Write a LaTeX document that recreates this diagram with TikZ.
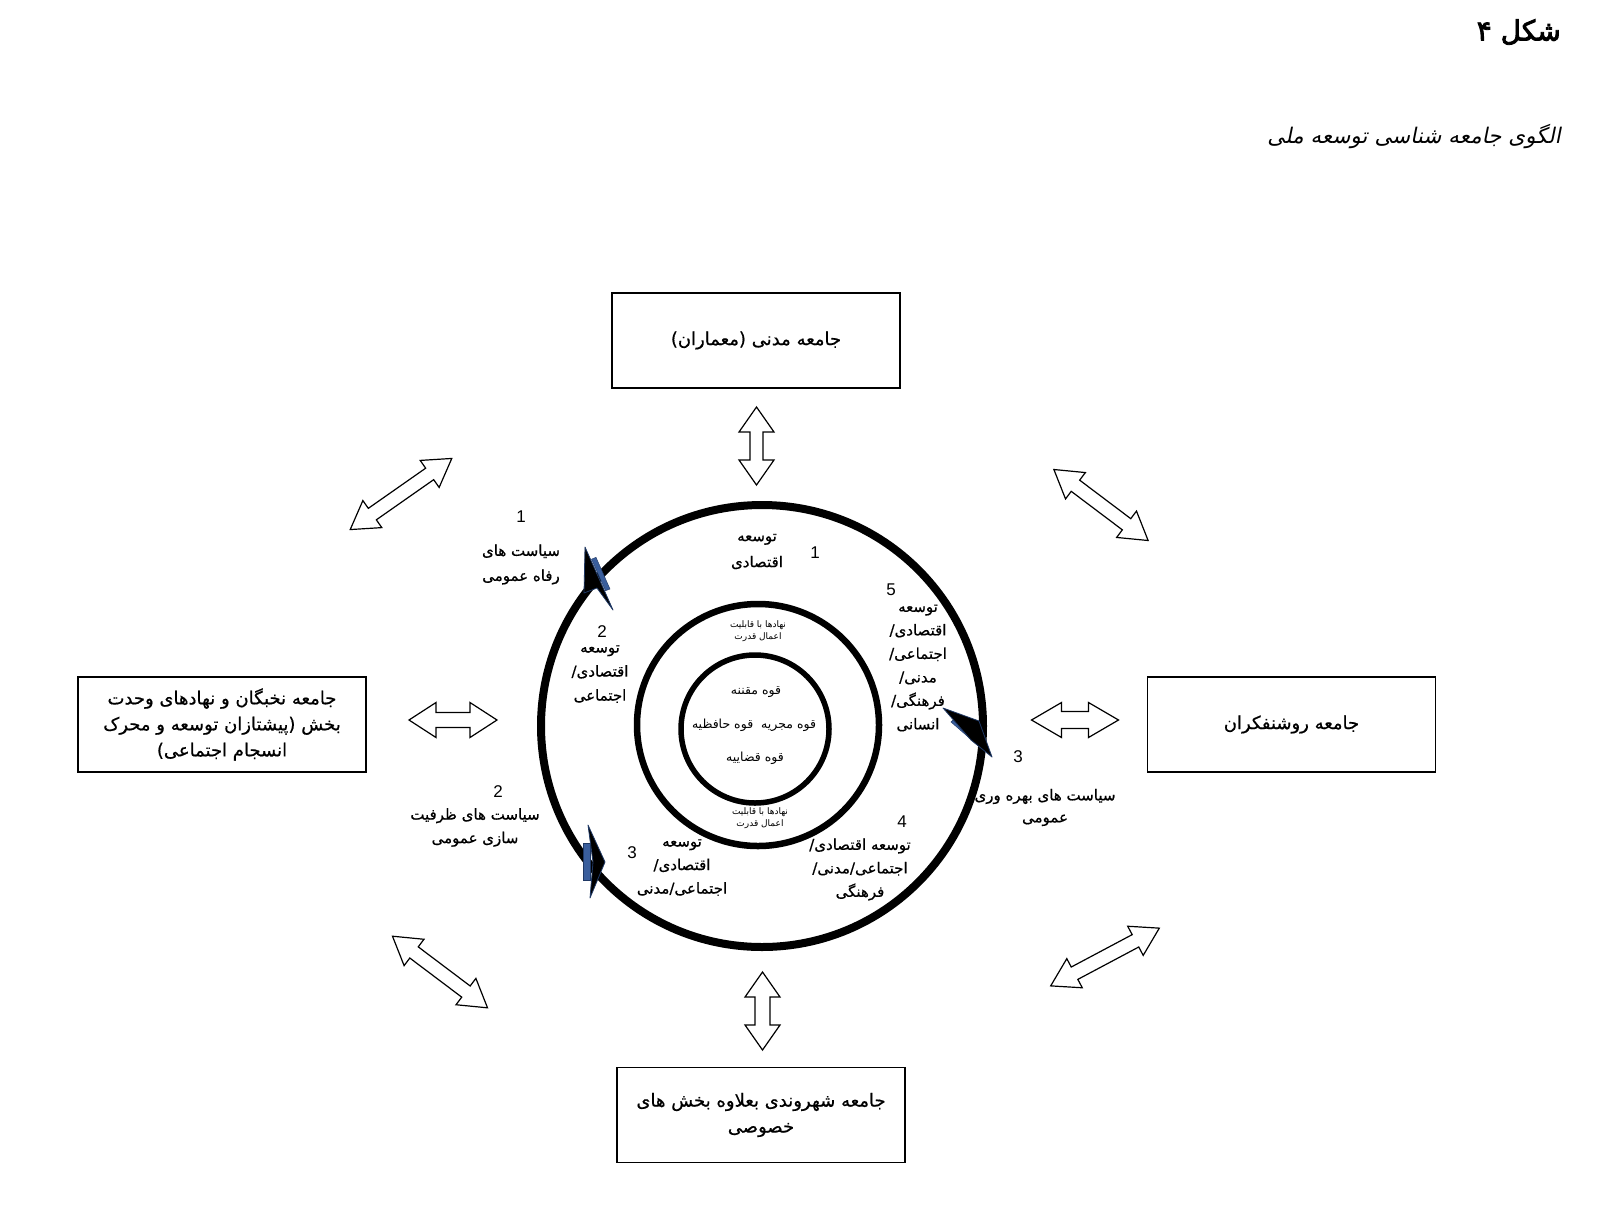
\documentclass[tikz,border=0pt]{standalone}
\usepackage{fontspec}
\setmainfont{Liberation Sans}
\newfontfamily\fa[Script=Arabic,FakeBold=0.6]{DejaVu Sans}
\newfontfamily\fathin[Script=Arabic]{DejaVu Sans}
\newfontfamily\faslant[Script=Arabic,FakeSlant=0.2]{DejaVu Sans}
\newfontfamily\fabold[Script=Arabic,FakeBold=3]{DejaVu Sans}
\TeXXeTstate=1
\definecolor{headedge}{HTML}{1F3864}
\definecolor{headstrip}{HTML}{3A5E9C}
\newcommand\blockarr[7]{%
  \begin{scope}[shift={(#1,#2)},rotate=#3]
    \pgfmathsetmacro\La{#4/2}\pgfmathsetmacro\Lb{#4/2-#7}%
    \pgfmathsetmacro\Wa{#5/2}\pgfmathsetmacro\Wb{#6/2}%
    \draw[blockarrow] (-\La,0) -- (-\Lb,\Wa) -- (-\Lb,\Wb) -- (\Lb,\Wb) -- (\Lb,\Wa) -- (\La,0)
      -- (\Lb,-\Wa) -- (\Lb,-\Wb) -- (-\Lb,-\Wb) -- (-\Lb,-\Wa) -- cycle;
  \end{scope}}
\begin{document}
\begin{tikzpicture}[x=1pt,y=-1pt,
  textbox/.style={draw, line width=1.2pt, minimum width=288pt, minimum height=95pt, inner sep=0pt,
    align=center, font=\fa\fontsize{18}{26}\selectfont},
  blockarrow/.style={draw, line width=1.2pt, fill=white, line join=miter},
  ring/.style={circle, draw, inner sep=0pt},
  lbl/.style={align=center, inner sep=0pt, font=\fa\fontsize{15}{23.5}\selectfont},
  num/.style={inner sep=0pt, font=\fontsize{17}{19}\selectfont},
  small/.style={align=center, inner sep=0pt, font=\fathin\fontsize{9}{12}\selectfont},
  power/.style={inner sep=0pt, font=\fathin\fontsize{12.5}{14}\selectfont},
  headblack/.style={fill=black, draw=headedge, line width=0.8pt, line join=round},
  headblue/.style={fill=headstrip, draw=headedge, line width=0.4pt}]
\useasboundingbox (0,0) rectangle (1609,1208);
\fill[white] (0,0) rectangle (1609,1208);

% title
\node[anchor=east, inner sep=0pt, font=\fabold\fontsize{28}{32}\selectfont] (title) at (1561,32) {\beginR شکل ۴\endR};
\node[anchor=east, inner sep=0pt, font=\faslant\fontsize{21.5}{26}\selectfont] (subtitle) at (1561,136) {\beginR الگوی جامعه شناسی توسعه ملی\endR};

% boxes
\node[textbox] (civil) at (756,340.5) {\beginR جامعه مدنی (معماران)\endR};
\node[textbox] (elite) at (222,724.5) {\beginR جامعه نخبگان و نهادهای وحدت\endR\\\beginR بخش (پیشتازان توسعه و محرک\endR\\\beginR انسجام اجتماعی)\endR};
\node[textbox] (intel) at (1291.5,724.5) {\beginR جامعه روشنفکران\endR};
\node[textbox] (citizen) at (761,1115) {\beginR جامعه شهروندی بعلاوه بخش های\endR\\\beginR خصوصی\endR};

% rings
\node[ring, line width=8pt, minimum size=442pt] (outer) at (762,726) {};
\node[ring, line width=6.5pt, minimum size=242pt] (middle) at (758,725) {};
\node[ring, line width=5.5pt, minimum size=148pt] (inner) at (755,729) {};

% arrowheads on the outer ring
\path[headblue] (591.5,559.2) -- (596,557.3) -- (610,589) -- (605.5,590.7) -- cycle;
\path[headblack] (585,547) -- (613,610) -- (597,588) -- (584,593) -- cycle;
\path[headblue] (951,722) -- (954,719) -- (985,746) -- (982,749) -- cycle;
\path[headblack] (943,708) -- (979,721) -- (992,757) -- (971,740) -- cycle;
\path[headblue] (583,843) rectangle (590,880);
\path[headblack] (588,825) -- (605,862) -- (590,898) -- (593,862) -- cycle;

% block arrows
\blockarr{756.5}{446}{90}{78}{35}{13}{25}
\blockarr{762.5}{1011}{90}{78}{35}{15}{25}
\blockarr{453}{720}{0}{88}{35}{15}{27}
\blockarr{1075}{720}{0}{87}{35}{17}{30}
\blockarr{401}{494}{35}{124}{33}{14}{27}
\blockarr{1101}{505}{-37}{118}{33}{14}{27}
\blockarr{440}{972}{-37}{119}{33}{14}{27}
\blockarr{1105}{957}{28}{123}{33}{14}{27}

% labels outside the ring
\node[num] (n1) at (521,517) {1};
\node[lbl, font=\fa\fontsize{15}{25}\selectfont] (pol1) at (521,564.5) {\beginR سیاست های\endR\\\beginR رفاه عمومی\endR};
\node[num] (n2p) at (498,792) {2};
\node[lbl] (pol2) at (475,827.5) {\beginR سیاست های ظرفیت\endR\\\beginR سازی عمومی\endR};
\node[num] (n3p) at (1018,757) {3};
\node[lbl, font=\fa\fontsize{15}{22}\selectfont] (pol3) at (1045,807.5) {\beginR سیاست های بهره وری\endR\\\beginR عمومی\endR};

% labels inside the outer ring
\node[lbl, font=\fa\fontsize{15}{26}\selectfont] (dev1) at (757,551.5) {\beginR توسعه\endR\\\beginR اقتصادی\endR};
\node[num] (n1d) at (815,553) {1};
\node[num] (n2d) at (602,632) {2};
\node[lbl, font=\fa\fontsize{15}{24}\selectfont] (dev2) at (600,674) {\beginR توسعه\endR\\\beginR اقتصادی/\endR\\\beginR اجتماعی\endR};
\node[num] (n5d) at (891,590) {5};
\node[lbl] (dev5) at (918,668) {\beginR توسعه\endR\\\beginR اقتصادی/\endR\\\beginR اجتماعی/\endR\\\beginR مدنی/\endR\\\beginR فرهنگی/\endR\\\beginR انسانی\endR};
\node[num] (n4d) at (902,822) {4};
\node[lbl] (dev4) at (860,869.5) {\beginR توسعه اقتصادی/\endR\\\beginR اجتماعی/مدنی/\endR\\\beginR فرهنگی\endR};
\node[num] (n3d) at (632,853) {3};
\node[lbl] (dev3) at (682,867.5) {\beginR توسعه\endR\\\beginR اقتصادی/\endR\\\beginR اجتماعی/مدنی\endR};

% middle ring labels
\node[small] (inst1) at (758,631) {\beginR نهادها با قابلیت\endR\\\beginR اعمال قدرت\endR};
\node[small] (inst2) at (760,818) {\beginR نهادها با قابلیت\endR\\\beginR اعمال قدرت\endR};

% inner ring labels
\node[power] (leg) at (756,692) {\beginR قوه مقننه\endR};
\node[power] (exe) at (754,725) {\beginR قوه مجریه\ \ قوه حافظیه\endR};
\node[power] (jud) at (755,758) {\beginR قوه قضاییه\endR};
\end{tikzpicture}
\end{document}
